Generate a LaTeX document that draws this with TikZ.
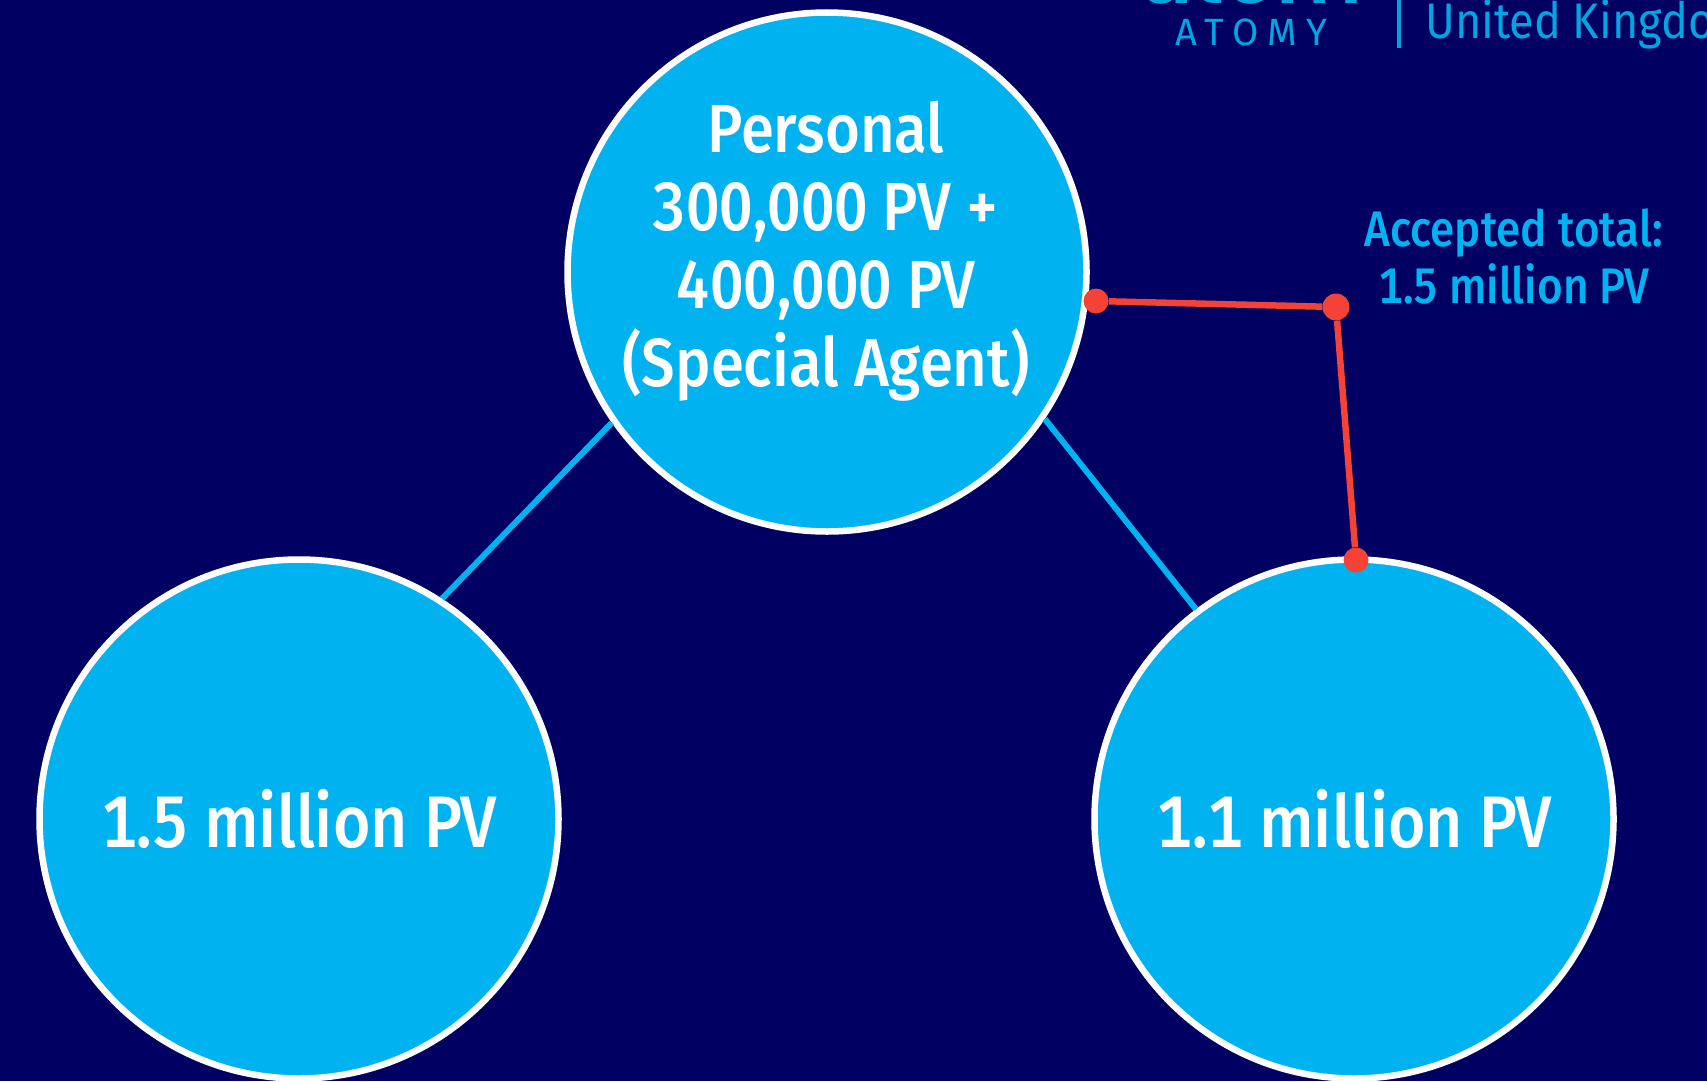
\documentclass[tikz,border=0pt]{standalone}
\usepackage{fontspec}
\setmainfont[FakeStretch=0.88,Numbers=Monospaced]{Fira Sans Medium}
\newfontfamily\plainfont[FakeStretch=0.9]{Fira Sans}
\newfontfamily\logofont[LetterSpace=25]{Fira Sans}
\newfontfamily\markfont{Poppins SemiBold}
\usetikzlibrary{positioning,backgrounds}
\definecolor{shadecolor}{HTML}{000062}
\definecolor{sky-blue}{HTML}{00B3F0}
\definecolor{logo-blue}{HTML}{00A6E0}
\definecolor{dot-red}{HTML}{F44336}

\begin{document}
\begin{tikzpicture}[x=1pt,y=-1pt]

\tikzstyle{pv circle}=[circle,draw=white,fill=sky-blue,line width=6.5pt,minimum size=519pt,inner sep=0pt,text=white,font=\fontsize{73}{78}\selectfont]
\tikzstyle{red dot}=[circle,fill=dot-red,minimum size=25pt,inner sep=0pt]
\tikzstyle{link}=[line width=6pt,draw=sky-blue]
\tikzstyle{red link}=[line width=6.5pt,draw=dot-red]
\tikzstyle{annot}=[text=sky-blue,align=center,inner sep=0pt,font=\fontsize{50}{57}\selectfont]
\tikzstyle{brand}=[text=logo-blue,inner sep=0pt,anchor=base west]

\useasboundingbox (0,0) rectangle (1707,1081);
\fill[shadecolor] (0,0) rectangle (1707,1081);

\node[pv circle] (top) at (827,272) { };
\node[pv circle] (left) at (299,819) {1.5 million PV};
\node[pv circle] (right) at (1354,819) {1.1 million PV};

\node[text=white,align=center,inner sep=0pt,font=\fontsize{68}{78}\selectfont] (toplabel) at (826,251) {Personal\\300,000 PV +\\400,000 PV\\(Special Agent)};
\node[annot] (total) at (1514,256) {Accepted total:\\1.5 million PV};

\draw[link] (top.215) -- (left.57);
\draw[link] (top.326) -- (right.127);

\node[red dot] (d1) at (1096,301) { };
\node[red dot,minimum size=27pt] (d2) at (1336,307) { };
\node[red dot] (d3) at (1356,560) { };
\draw[red link] (d1) -- (d2);
\draw[red link] (d2) -- (d3);

\begin{scope}
\clip (1130,0) rectangle (1372,6);
\node[brand,font=\markfont\fontsize{82}{82}\selectfont] (mark) at (1137,4) {atomy};
\end{scope}
\node[brand,font=\logofont\fontsize{38}{38}\selectfont] (atomy) at (1175,46) {ATOMY};
\node[brand,font=\plainfont\fontsize{50}{50}\selectfont] (uk) at (1425,39) {United Kingdom};
\coordinate (bar top) at (1399,0);
\coordinate (bar end) at (1399,48);
\draw[line width=4pt,draw=logo-blue] (bar top) -- (bar end);

\end{tikzpicture}
\end{document}
